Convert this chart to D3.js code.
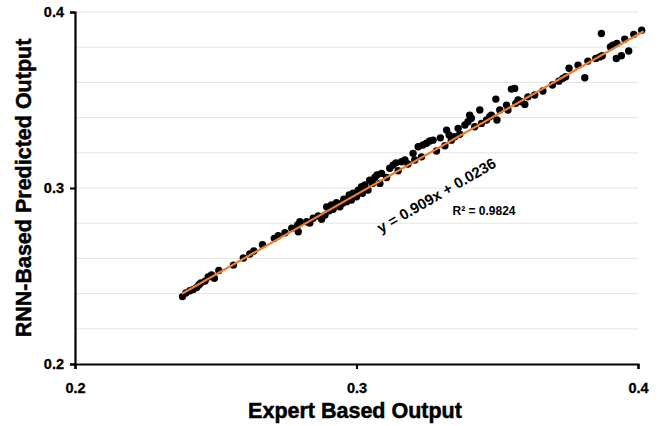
<!DOCTYPE html>
<html>
<head>
<meta charset="utf-8">
<script src="https://cdn.jsdelivr.net/npm/d3@7"></script>
<style>
  body { margin: 0; background: #fff; }
  svg { font-family: "Liberation Sans", Arial, sans-serif; }
  .tick-label { font-weight: bold; font-size: 14.5px; fill: #000; stroke: #000; stroke-width: 0.3px; }
  .axis-title { font-weight: bold; font-size: 21.5px; fill: #000; stroke: #000; stroke-width: 0.5px; }
</style>
</head>
<body>
<svg width="662" height="426"></svg>
<script>
// Expert based output (x) and RNN-based predicted output (y)
const expert = [
  0.2382, 0.2394, 0.2408, 0.2420, 0.2432, 0.2440, 0.2447, 0.2462, 0.2473, 0.2485,
  0.2495, 0.2511, 0.2563, 0.2598, 0.2621, 0.2635, 0.2666, 0.2708, 0.2722, 0.2746,
  0.2770, 0.2791, 0.2793, 0.2799, 0.2823, 0.2834, 0.2846, 0.2864, 0.2876, 0.2888,
  0.2894, 0.2903, 0.2911, 0.2917, 0.2929, 0.2941, 0.2950, 0.2955, 0.2965, 0.2974,
  0.2982, 0.2988, 0.3000, 0.3006, 0.3018, 0.3021, 0.3030, 0.3041, 0.3047, 0.3057,
  0.3065, 0.3073, 0.3083, 0.3089, 0.3107, 0.3118, 0.3130, 0.3140, 0.3148, 0.3160,
  0.3172, 0.3183, 0.3201, 0.3207, 0.3219, 0.3231, 0.3236, 0.3249, 0.3260, 0.3272,
  0.3284, 0.3298, 0.3314, 0.3320, 0.3329, 0.3337, 0.3349, 0.3361, 0.3367, 0.3385,
  0.3396, 0.3402, 0.3408, 0.3420, 0.3438, 0.3444, 0.3462, 0.3473, 0.3479, 0.3495,
  0.3499, 0.3509, 0.3533, 0.3538, 0.3550, 0.3562, 0.3566, 0.3574, 0.3586, 0.3598,
  0.3609, 0.3633, 0.3662, 0.3696, 0.3719, 0.3733, 0.3743, 0.3755, 0.3787, 0.3811,
  0.3822, 0.3850, 0.3864, 0.3873, 0.3870, 0.3902, 0.3911, 0.3925, 0.3923, 0.3941,
  0.3953, 0.3967, 0.3985, 0.4013
];
const predicted = [
  0.2383, 0.2403, 0.2416, 0.2423, 0.2435, 0.2449, 0.2460, 0.2471, 0.2494, 0.2506,
  0.2487, 0.2531, 0.2562, 0.2602, 0.2625, 0.2642, 0.2678, 0.2714, 0.2729, 0.2746,
  0.2772, 0.2790, 0.2751, 0.2808, 0.2808, 0.2801, 0.2828, 0.2841, 0.2822, 0.2846,
  0.2893, 0.2871, 0.2903, 0.2879, 0.2916, 0.2893, 0.2913, 0.2936, 0.2922, 0.2960,
  0.2932, 0.2970, 0.2950, 0.2988, 0.3007, 0.2970, 0.3017, 0.2988, 0.3045, 0.3026,
  0.3060, 0.3074, 0.3026, 0.3083, 0.3060, 0.3112, 0.3130, 0.3143, 0.3098, 0.3149,
  0.3159, 0.3136, 0.3197, 0.3159, 0.3234, 0.3177, 0.3244, 0.3254, 0.3267, 0.3272,
  0.3210, 0.3285, 0.3240, 0.3329, 0.3301, 0.3272, 0.3291, 0.3339, 0.3305, 0.3358,
  0.3376, 0.3414, 0.3396, 0.3348, 0.3443, 0.3367, 0.3386, 0.3405, 0.3414, 0.3505,
  0.3386, 0.3443, 0.3471, 0.3443, 0.3562, 0.3566, 0.3481, 0.3500, 0.3490, 0.3475,
  0.3518, 0.3528, 0.3551, 0.3585, 0.3607, 0.3623, 0.3632, 0.3680, 0.3698, 0.3626,
  0.3721, 0.3736, 0.3745, 0.3751, 0.3878, 0.3802, 0.3812, 0.3822, 0.3736, 0.3751,
  0.3846, 0.3778, 0.3873, 0.3897
];

const xTicks = [0.2, 0.3, 0.4];
const yTicks = [0.2, 0.3, 0.4];
const gridValues = [0.22, 0.24, 0.26, 0.28, 0.3, 0.32, 0.34, 0.36, 0.38, 0.4];

// linear trend line y = 0.909x + 0.0236
const slope = 0.909, intercept = 0.0236;
const trendX = [0.238, 0.402];

const data = expert.map((x, i) => ({ x: x, y: predicted[i] }));

const svg = d3.select("svg");
const plot = { left: 75, right: 638, top: 12, bottom: 364 };

const xScale = d3.scaleLinear().domain([0.2, 0.4]).range([plot.left, plot.right]);
const yScale = d3.scaleLinear().domain([0.2, 0.4]).range([plot.bottom, plot.top]);

// light horizontal gridlines
svg.append("g")
  .selectAll("line")
  .data(gridValues)
  .enter()
  .append("line")
  .attr("x1", plot.left)
  .attr("x2", plot.right)
  .attr("y1", d => yScale(d))
  .attr("y2", d => yScale(d))
  .attr("stroke", "#e4e4e4")
  .attr("stroke-width", 1);

// axes
const xAxis = svg.append("g")
  .attr("transform", `translate(0,${plot.bottom})`)
  .call(d3.axisBottom(xScale).tickValues(xTicks).tickSize(5).tickFormat(d3.format(".1f")));
const yAxis = svg.append("g")
  .attr("transform", `translate(${plot.left},0)`)
  .call(d3.axisLeft(yScale).tickValues(yTicks).tickSize(5).tickFormat(d3.format(".1f")));

[xAxis, yAxis].forEach(ax => {
  ax.select(".domain").attr("stroke", "#000").attr("stroke-width", 2.2);
  ax.selectAll(".tick line").attr("stroke", "#000").attr("stroke-width", 2);
  ax.selectAll(".tick text")
    .attr("class", "tick-label")
    .style("font-family", "'Liberation Sans', Arial, sans-serif");
});
xAxis.selectAll(".tick text").attr("dy", "0").attr("y", 29);
yAxis.selectAll(".tick text").attr("x", -11);

// points
svg.append("g")
  .selectAll("circle")
  .data(data)
  .enter()
  .append("circle")
  .attr("cx", d => xScale(d.x))
  .attr("cy", d => yScale(d.y))
  .attr("r", 3.7)
  .attr("fill", "#000");

// trend line
svg.append("line")
  .attr("x1", xScale(trendX[0]))
  .attr("y1", yScale(slope * trendX[0] + intercept))
  .attr("x2", xScale(trendX[1]))
  .attr("y2", yScale(slope * trendX[1] + intercept))
  .attr("stroke", "#ED7D31")
  .attr("stroke-width", 2.2);

// equation and R²
svg.append("text")
  .attr("transform", "translate(439,200) rotate(-30)")
  .attr("text-anchor", "middle")
  .style("font-weight", "bold")
  .style("font-size", "15px")
  .text("y = 0.909x + 0.0236");

svg.append("text")
  .attr("x", 484)
  .attr("y", 215)
  .attr("text-anchor", "middle")
  .style("font-weight", "bold")
  .style("font-size", "12px")
  .text("R² = 0.9824");

// axis titles
svg.append("text")
  .attr("class", "axis-title")
  .attr("x", 355)
  .attr("y", 418)
  .attr("text-anchor", "middle")
  .text("Expert Based Output");

svg.append("text")
  .attr("class", "axis-title")
  .attr("transform", "translate(31,188) rotate(-90)")
  .attr("text-anchor", "middle")
  .text("RNN-Based Predicted Output");
</script>
</body>
</html>
